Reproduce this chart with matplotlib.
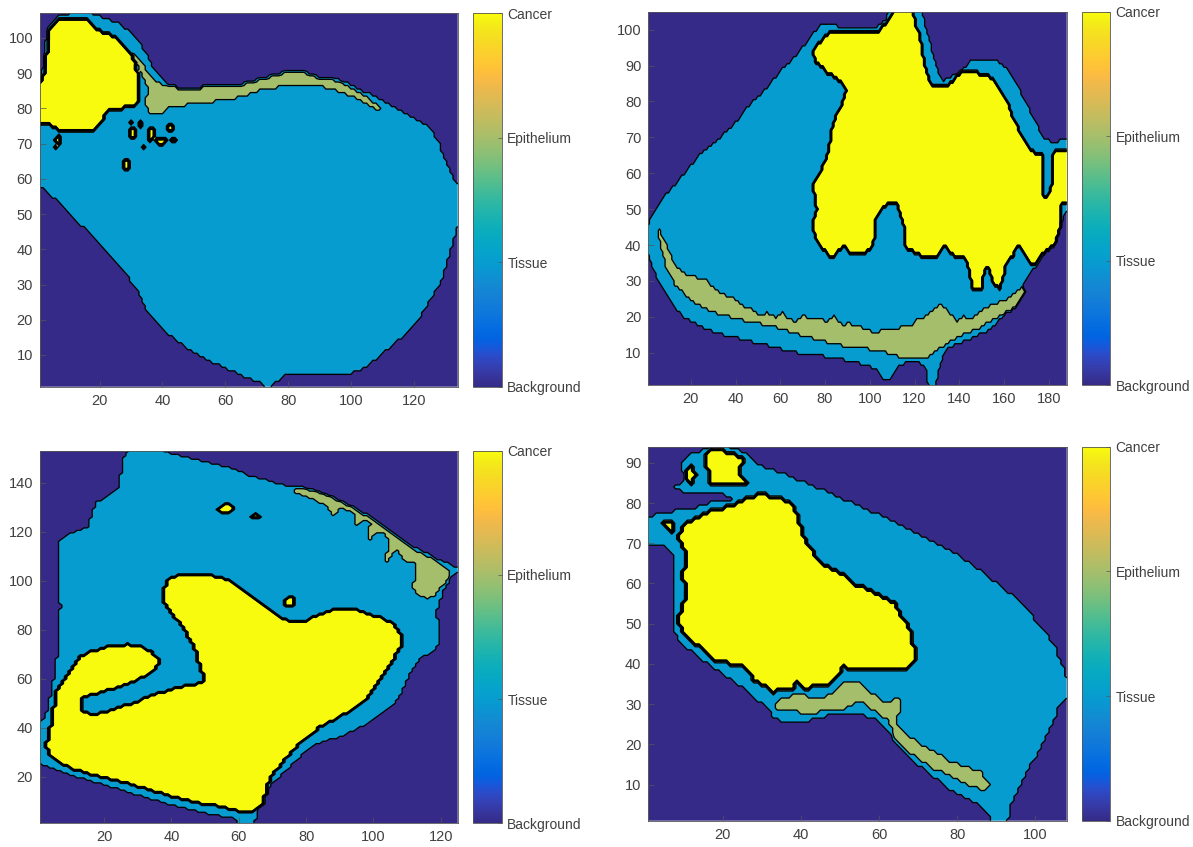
import numpy as np
import matplotlib
matplotlib.use("Agg")
import matplotlib.pyplot as plt
from matplotlib.path import Path
from matplotlib.colors import ListedColormap, LinearSegmentedColormap, Normalize
from matplotlib.cm import ScalarMappable

plt.rcParams['font.family'] = ['Liberation Sans', 'DejaVu Sans']

# ---------------- parula colormap (MATLAB) ----------------
PARULA = [
    [0.2081, 0.1663, 0.5292], [0.2116, 0.1898, 0.5777], [0.2123, 0.2138, 0.6270], [0.2081, 0.2386, 0.6771],
    [0.1959, 0.2645, 0.7279], [0.1707, 0.2919, 0.7792], [0.1253, 0.3242, 0.8303], [0.0591, 0.3598, 0.8683],
    [0.0117, 0.3875, 0.8820], [0.0060, 0.4086, 0.8828], [0.0165, 0.4266, 0.8786], [0.0329, 0.4430, 0.8720],
    [0.0498, 0.4586, 0.8641], [0.0629, 0.4737, 0.8554], [0.0723, 0.4887, 0.8467], [0.0779, 0.5040, 0.8384],
    [0.0793, 0.5200, 0.8312], [0.0749, 0.5375, 0.8263], [0.0641, 0.5570, 0.8240], [0.0488, 0.5772, 0.8228],
    [0.0343, 0.5966, 0.8199], [0.0265, 0.6137, 0.8135], [0.0239, 0.6287, 0.8038], [0.0231, 0.6418, 0.7913],
    [0.0228, 0.6535, 0.7768], [0.0267, 0.6642, 0.7607], [0.0384, 0.6743, 0.7436], [0.0590, 0.6838, 0.7254],
    [0.0843, 0.6928, 0.7062], [0.1133, 0.7015, 0.6859], [0.1453, 0.7098, 0.6646], [0.1801, 0.7177, 0.6424],
    [0.2178, 0.7250, 0.6193], [0.2586, 0.7317, 0.5954], [0.3022, 0.7376, 0.5712], [0.3482, 0.7424, 0.5473],
    [0.3953, 0.7459, 0.5244], [0.4420, 0.7481, 0.5033], [0.4871, 0.7491, 0.4840], [0.5300, 0.7491, 0.4661],
    [0.5709, 0.7485, 0.4494], [0.6099, 0.7473, 0.4337], [0.6473, 0.7456, 0.4188], [0.6834, 0.7435, 0.4044],
    [0.7184, 0.7411, 0.3905], [0.7525, 0.7384, 0.3768], [0.7858, 0.7356, 0.3633], [0.8185, 0.7327, 0.3498],
    [0.8507, 0.7299, 0.3360], [0.8824, 0.7274, 0.3217], [0.9139, 0.7258, 0.3063], [0.9450, 0.7261, 0.2886],
    [0.9739, 0.7314, 0.2666], [0.9938, 0.7455, 0.2403], [0.9990, 0.7653, 0.2164], [0.9955, 0.7861, 0.1967],
    [0.9880, 0.8066, 0.1794], [0.9789, 0.8271, 0.1633], [0.9697, 0.8481, 0.1475], [0.9626, 0.8705, 0.1309],
    [0.9589, 0.8949, 0.1132], [0.9598, 0.9218, 0.0948], [0.9661, 0.9514, 0.0755], [0.9763, 0.9831, 0.0538]]
parula = ListedColormap(PARULA, name="parula")
parula_smooth = LinearSegmentedColormap.from_list("parula_s", PARULA, N=512)

CLASS_NAMES = ["Background", "Tissue", "Epithelium", "Cancer"]
CLASS_VALUES = [0, 1, 2, 3]

# ---------------- Panel 1 (top-left) ----------------
P1_SIZE = (134, 107)
P1_XTICKS = [20, 40, 60, 80, 100, 120]
P1_YTICKS = [10, 20, 30, 40, 50, 60, 70, 80, 90, 100]
P1_TISSUE = [(4.2, 104.0), (6.8, 106.6), (15.2, 107.5), (20.5, 106.1), (24.8, 104.7), (29.0, 102.4),
             (32.2, 99.5), (34.8, 95.8), (37.5, 91.1), (40.6, 87.3), (44.9, 85.9), (50.2, 85.4),
             (56.5, 86.3), (62.9, 86.5), (69.2, 87.8), (75.6, 89.6), (80.8, 90.8), (85.1, 90.6),
             (90.4, 88.7), (95.7, 88.2), (101.0, 86.3), (106.2, 84.0), (111.5, 81.6), (116.8, 78.8),
             (122.1, 76.4), (125.8, 74.1), (127.9, 70.3), (130.1, 65.6), (132.2, 60.9), (135.0, 57.1),
             (135.0, 48.6), (132.7, 43.0), (131.1, 37.3), (129.0, 31.7), (126.3, 27.0), (123.2, 22.3),
             (118.9, 17.5), (114.7, 13.8), (109.4, 10.0), (104.1, 6.2), (98.8, 4.3), (78.7, 4.3),
             (76.6, 2.5), (73.4, 0.5), (70.3, 2.5), (65.0, 4.3), (57.6, 7.2), (48.0, 11.9),
             (39.6, 17.5), (35.3, 22.3), (32.2, 27.9), (27.9, 33.6), (22.6, 39.2), (16.3, 44.9),
             (11.0, 49.6), (6.8, 53.4), (4.7, 55.2), (0.5, 58.1), (0.5, 86.0), (1.8, 90.0),
             (2.6, 96.7), (3.2, 101.4)]
P1_EPI = [[(30.6, 95.8), (32.2, 94.4), (35.3, 90.6), (38.0, 87.8), (41.7, 86.3), (48.0, 85.6),
           (54.4, 86.2), (62.9, 86.3), (69.2, 87.5), (75.6, 89.4), (80.8, 90.6), (85.1, 90.3),
           (90.4, 88.5), (95.7, 87.9), (101.0, 85.4), (105.2, 83.0), (109.4, 80.3), (108.9, 79.2),
           (105.2, 81.2), (99.9, 83.6), (94.6, 85.4), (89.3, 86.3), (84.0, 86.7), (78.7, 86.2),
           (73.4, 85.6), (69.2, 84.6), (62.9, 82.8), (54.4, 81.8), (48.0, 81.0), (41.7, 80.2),
           (39.6, 78.0), (35.3, 79.0), (34.8, 81.2), (35.3, 86.3), (32.7, 91.1), (30.6, 93.9)]]
P1_CANCER = [[(4.7, 103.8), (7.3, 105.2), (7.8, 105.5), (15.8, 105.5), (16.8, 104.7), (19.5, 102.4),
              (23.7, 101.0), (26.3, 99.1), (28.5, 96.7), (30.6, 94.4), (31.6, 92.5), (32.2, 89.2),
              (32.4, 84.5), (32.2, 81.2), (30.6, 80.2), (23.7, 79.7), (22.1, 78.3), (20.5, 76.4),
              (18.9, 74.6), (17.4, 73.1), (9.9, 73.1), (6.2, 74.1), (3.6, 75.5), (0.5, 76.0),
              (0.5, 85.9), (2.3, 90.1), (3.1, 96.7), (3.6, 101.4)]]
P1_BLOB_X = [30.6, 36.2, 39.6, 28.7, 30.3, 32.9, 42.4, 34.3, 43.8, 6.8, 6.2]
P1_BLOB_Y = [73.2, 72.7, 70.8, 64.0, 76.2, 75.5, 74.7, 69.4, 71.3, 71.3, 68.9]
P1_BLOB_RX = [1.2, 1.1, 2.0, 1.0, 0.6, 0.7, 0.7, 0.6, 1.0, 0.9, 0.7]
P1_BLOB_RY = [1.6, 2.2, 1.0, 2.0, 0.6, 0.7, 1.4, 0.6, 0.6, 1.4, 0.8]

# ---------------- Panel 2 (top-right) ----------------
P2_SIZE = (188, 105)
P2_XTICKS = [20, 40, 60, 80, 100, 120, 140, 160, 180]
P2_YTICKS = [10, 20, 30, 40, 50, 60, 70, 80, 90, 100]
P2_TISSUE = [(0.5, 45.4), (7.3, 52.8), (16.2, 59.3), (25.2, 65.9), (32.7, 69.6), (40.2, 74.2),
             (46.1, 78.9), (53.6, 83.5), (61.1, 89.1), (67.1, 92.8), (73.1, 97.5), (77.6, 101.2),
             (82.0, 101.6), (88.0, 100.6), (103.0, 100.6), (107.4, 103.1), (108.9, 106.0), (123.2, 106.0),
             (124.7, 101.2), (127.7, 94.7), (130.7, 87.3), (132.9, 85.9), (137.4, 87.3), (141.9, 89.1),
             (144.9, 91.4), (147.8, 91.9), (156.8, 91.4), (161.3, 89.1), (165.8, 84.5), (170.3, 78.9),
             (174.8, 73.3), (177.8, 69.6), (182.3, 68.6), (189.0, 70.0), (189.0, 51.0), (185.2, 45.4),
             (182.3, 41.6), (177.8, 37.0), (173.3, 33.3), (168.8, 29.5), (165.8, 26.8), (162.8, 23.0),
             (159.8, 20.2), (153.8, 16.5), (147.8, 14.7), (140.4, 12.8), (134.4, 10.9), (131.4, 7.2),
             (129.2, 0.5), (126.2, 0.5), (124.7, 6.3), (119.4, 7.7), (113.4, 6.7), (108.9, 2.6),
             (106.0, 2.6), (103.0, 5.3), (97.0, 6.7), (88.0, 8.1), (79.1, 9.1), (67.1, 10.0),
             (55.1, 11.9), (43.2, 13.7), (31.2, 15.6), (23.7, 17.4), (16.2, 20.2), (10.3, 24.9),
             (5.8, 29.5), (2.8, 34.2), (0.5, 37.9)]
P2_EPI = [[(5.8, 45.4), (7.5, 42.0), (9.5, 39.8), (11.5, 36.5), (13.3, 34.2), (16.0, 33.0), (19.2, 31.4),
           (21.5, 31.8), (23.7, 30.5), (26.0, 30.8), (28.2, 29.5), (31.0, 27.6), (35.7, 25.8), (38.5, 25.9),
           (43.2, 23.0), (47.0, 22.5), (50.6, 20.7), (54.0, 21.0), (58.1, 19.8), (61.0, 21.2),
           (63.0, 19.3), (67.1, 18.8), (70.5, 20.3), (73.1, 19.3), (77.0, 19.6), (80.5, 18.8),
           (84.0, 20.0), (88.0, 17.9), (91.0, 18.1), (95.5, 17.4), (99.0, 16.2), (103.0, 15.6),
           (107.0, 16.6), (110.4, 16.1), (114.0, 17.2), (117.9, 17.0), (121.5, 19.5), (125.4, 20.2),
           (128.5, 22.0), (131.4, 23.5), (134.4, 22.1), (138.9, 18.8), (142.0, 20.0), (144.9, 19.3),
           (150.8, 22.1), (155.3, 23.5), (159.8, 24.4), (164.3, 26.3), (168.1, 28.2), (169.6, 26.8),
           (167.3, 24.4), (162.8, 21.6), (155.3, 19.3), (147.8, 16.5), (140.4, 14.7), (132.9, 11.9),
           (125.4, 8.6), (117.9, 8.0), (110.4, 9.5), (103.0, 10.7), (88.0, 11.9), (73.1, 14.2),
           (58.1, 17.0), (43.2, 19.1), (28.2, 21.6), (20.7, 24.4), (13.3, 28.6), (8.8, 34.2),
           (6.5, 39.8), (5.0, 44.4)]]
P2_CANCER = [[(111.2, 106.0), (119.4, 106.0), (120.2, 102.2), (122.4, 98.4), (123.9, 92.8), (124.7, 90.0),
              (126.9, 85.4), (129.2, 84.0), (134.4, 84.0), (137.4, 85.9), (138.9, 87.7), (143.4, 88.7),
              (146.3, 88.2), (150.8, 87.7), (155.3, 86.3), (158.3, 83.5), (161.3, 80.7), (162.8, 78.0),
              (164.3, 75.2), (167.3, 71.4), (170.3, 67.7), (173.3, 65.9), (177.0, 65.7), (177.4, 60.3),
              (177.0, 54.2), (179.6, 53.6), (181.1, 56.5), (181.1, 64.9), (183.0, 66.3), (186.7, 67.0),
              (189.0, 66.8), (189.0, 51.9), (186.0, 51.0), (185.2, 45.4), (183.8, 41.6), (180.8, 38.9),
              (177.8, 37.9), (174.8, 35.1), (171.8, 34.2), (168.8, 37.9), (165.8, 39.8), (164.3, 37.0),
              (161.3, 35.1), (159.8, 30.5), (158.3, 27.7), (155.3, 28.6), (153.8, 32.3), (152.3, 34.2),
              (150.8, 31.4), (150.1, 27.7), (146.3, 27.2), (144.9, 30.5), (143.4, 35.1), (141.9, 37.0),
              (138.9, 36.1), (132.9, 39.8), (131.4, 37.9), (129.9, 36.1), (125.4, 36.1), (122.4, 37.0),
              (119.4, 37.9), (115.0, 39.8), (115.0, 45.4), (113.4, 49.1), (112.0, 51.0), (107.4, 51.0),
              (104.5, 49.1), (103.0, 47.2), (103.0, 43.5), (101.5, 39.8), (97.0, 37.0), (94.0, 37.0),
              (91.0, 37.9), (88.0, 39.8), (83.5, 36.1), (82.0, 36.1), (80.5, 37.9), (77.6, 39.8),
              (74.6, 43.5), (74.6, 46.3), (76.1, 50.0), (74.6, 56.5), (77.6, 60.3), (80.5, 64.0),
              (82.0, 68.6), (83.5, 74.2), (86.5, 78.0), (88.0, 80.7), (89.5, 83.5), (86.5, 85.4),
              (80.5, 88.2), (75.3, 91.0), (74.6, 94.7), (79.1, 97.5), (82.0, 99.4), (88.0, 99.1),
              (103.0, 99.1), (106.0, 101.2), (108.9, 103.1)]]
P2_BLOB_X = []
P2_BLOB_Y = []
P2_BLOB_RX = []
P2_BLOB_RY = []

# ---------------- Panel 3 (bottom-left) ----------------
P3_SIZE = (125, 153)
P3_XTICKS = [20, 40, 60, 80, 100, 120]
P3_YTICKS = [20, 40, 60, 80, 100, 120, 140]
P3_TISSUE = [(6.6, 116.5), (8.6, 118.5), (12.5, 120.6), (15.5, 121.9), (16.5, 128.7), (18.0, 132.1),
             (21.5, 134.8), (24.0, 137.6), (25.0, 143.7), (25.7, 149.8), (27.0, 152.9), (35.4, 154.0),
             (40.4, 151.8), (44.4, 150.5), (48.4, 149.1), (52.3, 147.8), (56.3, 146.4), (60.3, 144.4),
             (64.3, 142.3), (68.3, 141.0), (71.2, 139.6), (75.2, 138.5), (78.2, 138.5), (84.2, 136.2),
             (88.2, 134.2), (92.1, 131.4), (96.1, 128.7), (100.1, 125.3), (104.1, 121.9), (108.1, 117.9),
             (112.0, 113.8), (116.0, 111.1), (120.0, 108.3), (124.0, 105.9), (126.0, 104.9), (123.0, 101.5),
             (121.0, 96.1), (120.0, 92.0), (118.5, 86.6), (119.5, 82.5), (120.0, 78.4), (119.0, 73.0),
             (117.0, 70.0), (114.0, 68.7), (112.0, 64.8), (110.0, 59.4), (108.1, 54.0), (106.1, 49.9),
             (104.1, 47.2), (101.1, 44.5), (98.1, 41.7), (94.1, 39.0), (90.1, 36.3), (86.2, 34.9),
             (82.2, 32.9), (79.2, 29.5), (76.2, 25.4), (73.2, 21.4), (70.2, 17.3), (67.3, 13.2),
             (66.3, 9.1), (65.3, 5.1), (64.8, 0.5), (60.3, 0.5), (58.3, 3.0), (48.4, 5.7),
             (38.4, 9.1), (28.5, 13.2), (18.5, 17.3), (8.6, 21.4), (0.5, 25.4), (0.5, 41.7),
             (2.6, 44.5), (3.6, 49.9), (4.6, 56.7), (5.6, 64.8), (6.4, 73.0), (6.6, 83.9),
             (7.1, 89.3), (6.6, 94.7), (6.6, 105.6)]
P3_EPI = [[(75.7, 138.0), (80.2, 137.2), (84.2, 135.5), (88.2, 133.5), (92.1, 130.8), (96.1, 127.6),
           (100.1, 124.4), (104.1, 120.8), (108.1, 116.8), (112.0, 112.7), (116.0, 109.7), (120.0, 107.0),
           (122.5, 104.3), (122.0, 100.2), (120.0, 97.5), (118.5, 94.1), (116.0, 92.7), (113.0, 94.1),
           (111.5, 97.5), (112.5, 101.5), (113.0, 105.6), (111.5, 108.3), (109.5, 107.0), (108.5, 109.7),
           (107.1, 112.1), (105.6, 110.8), (104.1, 107.7), (103.1, 109.4), (104.6, 113.1), (104.9, 116.5),
           (103.1, 119.2), (100.6, 119.9), (99.1, 116.5), (98.1, 119.2), (99.1, 123.0), (97.1, 124.9),
           (94.6, 121.9), (94.9, 126.0), (93.1, 128.0), (90.6, 129.8), (89.1, 128.5), (88.6, 124.4),
           (87.6, 128.0), (85.2, 131.2), (82.2, 133.1), (79.2, 134.4), (76.7, 135.8)]]
P3_CANCER = [[(38.9, 100.2), (42.4, 102.9), (46.4, 102.9), (52.3, 102.2), (56.3, 100.9), (60.3, 97.5),
              (64.3, 93.4), (68.3, 89.3), (72.2, 85.2), (75.2, 83.2), (80.2, 83.9), (84.2, 86.6),
              (88.2, 88.6), (94.1, 88.6), (98.1, 86.6), (102.1, 85.2), (106.1, 82.5), (108.1, 78.4),
              (108.1, 73.0), (106.1, 67.6), (104.1, 63.5), (102.1, 59.4), (100.1, 55.3), (98.1, 51.3),
              (94.1, 47.2), (88.2, 43.1), (84.2, 40.4), (82.2, 37.7), (78.2, 33.6), (76.2, 30.9),
              (74.2, 27.5), (71.2, 22.7), (69.3, 18.6), (68.3, 14.6), (67.3, 9.1), (65.3, 6.4),
              (64.3, 5.1), (60.3, 5.7), (54.3, 7.8), (48.4, 9.1), (40.4, 11.8), (33.4, 14.6),
              (26.5, 17.3), (18.5, 20.0), (11.5, 22.7), (6.6, 25.4), (3.6, 29.5), (2.6, 32.2),
              (3.6, 37.7), (4.6, 44.5), (5.6, 54.0), (6.6, 56.7), (9.6, 62.1), (12.5, 68.9),
              (15.5, 71.0), (20.5, 73.0), (27.5, 74.1), (31.4, 73.0), (34.4, 71.0), (36.4, 67.6),
              (35.4, 63.5), (32.4, 60.8), (28.5, 58.7), (23.5, 56.0), (18.5, 54.0), (14.0, 52.6),
              (13.5, 47.2), (16.5, 45.6), (21.5, 46.9), (28.5, 50.2), (34.4, 53.3), (40.4, 56.0),
              (46.4, 57.8), (49.9, 58.7), (48.4, 64.8), (47.4, 70.3), (45.9, 74.4), (44.4, 78.4),
              (42.4, 82.5), (39.9, 86.6), (37.9, 90.7), (37.4, 96.1)]]
P3_BLOB_X = [56.3, 65.0, 75.2]
P3_BLOB_Y = [129.4, 126.3, 91.4]
P3_BLOB_RX = [2.4, 1.3, 1.6]
P3_BLOB_RY = [1.8, 0.8, 2.4]

# ---------------- Panel 4 (bottom-right) ----------------
P4_SIZE = (108, 94)
P4_XTICKS = [20, 40, 60, 80, 100]
P4_YTICKS = [10, 20, 30, 40, 50, 60, 70, 80, 90]
P4_TISSUE = [(10.4, 85.5), (9.5, 89.6), (11.7, 92.0), (15.1, 93.3), (19.3, 94.5), (24.4, 93.3),
             (27.0, 92.0), (28.7, 90.0), (31.2, 88.8), (35.4, 87.5), (42.2, 84.6), (49.0, 81.8),
             (55.8, 78.9), (62.6, 76.0), (69.4, 72.7), (76.2, 69.4), (83.0, 65.3), (88.1, 61.5),
             (93.2, 57.8), (97.4, 53.7), (101.7, 49.2), (105.1, 44.2), (107.0, 39.3), (108.5, 35.6),
             (108.5, 31.9), (106.0, 29.4), (104.3, 25.3), (101.7, 20.3), (99.2, 15.4), (96.6, 10.8),
             (94.5, 6.3), (93.2, 3.0), (92.8, 0.5), (89.0, 0.5), (87.7, 3.0), (85.6, 5.0),
             (82.2, 6.7), (78.8, 8.4), (75.4, 10.8), (72.0, 13.3), (68.6, 15.8), (65.2, 18.7),
             (63.1, 22.0), (60.9, 24.9), (58.4, 26.5), (55.0, 27.6), (51.6, 27.7), (49.0, 27.4),
             (45.6, 26.9), (42.2, 26.0), (38.8, 25.5), (35.4, 25.3), (33.3, 26.5), (31.2, 29.0),
             (27.8, 31.9), (23.6, 35.2), (19.3, 38.0), (15.1, 40.9), (11.7, 43.4), (8.7, 45.9),
             (7.4, 49.2), (7.8, 52.5), (7.0, 55.8), (7.8, 59.2), (7.4, 64.1), (7.0, 67.4),
             (4.9, 69.4), (0.5, 69.4), (0.5, 76.8), (4.9, 77.2), (8.3, 78.1), (11.7, 78.5),
             (15.1, 79.7), (19.3, 80.6), (22.7, 80.9), (22.7, 81.9), (16.8, 82.2), (11.7, 82.8),
             (8.3, 83.1), (7.4, 84.2)]
P4_EPI = [[(32.9, 30.4), (35.4, 31.7), (38.8, 32.3), (42.2, 31.9), (45.6, 31.7), (49.0, 33.3),
           (50.7, 35.0), (52.9, 35.6), (54.6, 35.3), (56.3, 34.2), (58.0, 32.9), (59.7, 31.7),
           (61.8, 30.4), (63.5, 31.2), (65.2, 31.4), (66.0, 29.4), (65.0, 27.3), (64.5, 25.3),
           (65.6, 23.6), (68.1, 21.8), (71.1, 19.7), (74.5, 17.8), (77.9, 16.0), (81.3, 14.5),
           (84.7, 13.6), (86.2, 13.6), (87.2, 11.3), (88.2, 9.8), (86.8, 8.8), (83.9, 9.4),
           (80.5, 10.8), (77.1, 12.5), (73.7, 14.1), (70.3, 16.2), (66.9, 18.5), (64.3, 21.1),
           (63.1, 24.3), (61.8, 26.5), (59.2, 28.1), (56.7, 29.8), (54.6, 31.0), (52.7, 29.8),
           (50.7, 28.6), (47.3, 28.1), (42.2, 27.9), (37.1, 28.1), (33.7, 29.0)]]
P4_CANCER = [[(25.3, 80.6), (27.0, 81.8), (30.4, 82.2), (33.7, 81.4), (37.1, 80.6), (38.8, 78.1),
              (39.7, 75.6), (40.5, 72.3), (42.2, 69.1), (44.8, 65.8), (47.3, 64.1), (50.7, 62.5),
              (54.1, 59.9), (57.5, 58.3), (60.9, 56.6), (64.3, 54.9), (66.0, 51.7), (67.7, 49.2),
              (68.6, 45.9), (69.9, 42.2), (68.6, 39.3), (66.0, 38.3), (59.2, 38.1), (52.4, 38.5),
              (50.7, 39.3), (49.9, 37.6), (49.0, 36.0), (47.3, 34.3), (40.5, 33.9), (38.8, 35.2),
              (38.0, 33.5), (33.7, 33.3), (32.9, 32.5), (31.2, 34.3), (27.8, 35.8), (26.1, 38.4),
              (23.6, 39.9), (18.5, 40.1), (16.8, 41.8), (15.1, 43.4), (12.5, 45.0), (10.0, 47.6),
              (8.3, 50.9), (9.1, 53.3), (10.1, 55.8), (10.4, 59.1), (9.5, 62.4), (10.8, 65.7),
              (10.0, 68.1), (8.7, 70.6), (9.1, 73.1), (10.4, 74.7), (12.5, 76.4), (15.1, 77.4),
              (17.6, 78.2), (20.2, 78.7), (22.7, 79.7)],
             [(15.9, 92.9), (20.2, 93.3), (21.4, 92.5), (24.8, 91.6), (25.3, 90.4), (24.8, 88.8),
              (25.0, 86.3), (26.3, 85.0), (23.6, 84.6), (16.8, 84.6), (16.4, 87.1), (15.7, 89.6)],
             [(3.6, 75.4), (6.8, 76.0), (7.6, 72.2), (5.6, 73.4)]]
P4_BLOB_X = [11.9]
P4_BLOB_Y = [87.0]
P4_BLOB_RX = [1.1]
P4_BLOB_RY = [2.2]

# ---------------- drawing ----------------
FIG_W, FIG_H = 1193, 847
fig = plt.figure(figsize=(FIG_W / 100, FIG_H / 100), dpi=100)
fig.patch.set_facecolor("white")

# axes boxes in pixels: (left, top, right, bottom), colorbar (left, right)
BOXES = [
    ((40.0, 13.3, 457.7, 386.7), (473.3, 501.7)),
    ((648.3, 11.7, 1066.7, 385.0), (1081.6, 1110.0)),
    ((40.0, 450.7, 457.7, 823.3), (473.3, 501.7)),
    ((648.3, 446.7, 1066.7, 820.7), (1081.6, 1110.0)),
]

PANELS = [
    (P1_SIZE, P1_TISSUE, P1_EPI, P1_CANCER, P1_BLOB_X, P1_BLOB_Y, P1_BLOB_RX, P1_BLOB_RY, P1_XTICKS, P1_YTICKS),
    (P2_SIZE, P2_TISSUE, P2_EPI, P2_CANCER, P2_BLOB_X, P2_BLOB_Y, P2_BLOB_RX, P2_BLOB_RY, P2_XTICKS, P2_YTICKS),
    (P3_SIZE, P3_TISSUE, P3_EPI, P3_CANCER, P3_BLOB_X, P3_BLOB_Y, P3_BLOB_RX, P3_BLOB_RY, P3_XTICKS, P3_YTICKS),
    (P4_SIZE, P4_TISSUE, P4_EPI, P4_CANCER, P4_BLOB_X, P4_BLOB_Y, P4_BLOB_RX, P4_BLOB_RY, P4_XTICKS, P4_YTICKS),
]

TEXT_COL = "#404040"
class_colors = [parula(v / 3.0) for v in CLASS_VALUES]


def label_map(size, tissue, epis, cancers, bx, by, brx, bry):
    nx, ny = size
    X, Y = np.meshgrid(np.arange(1, nx + 1), np.arange(1, ny + 1))
    pts = np.column_stack([X.ravel(), Y.ravel()])
    L = np.zeros(X.shape)
    L[Path(tissue).contains_points(pts).reshape(X.shape)] = CLASS_VALUES[1]
    for poly in epis:
        L[Path(poly).contains_points(pts).reshape(X.shape)] = CLASS_VALUES[2]
    for poly in cancers:
        L[Path(poly).contains_points(pts).reshape(X.shape)] = CLASS_VALUES[3]
    for x0, y0, rx, ry in zip(bx, by, brx, bry):
        L[((X - x0) / rx) ** 2 + ((Y - y0) / ry) ** 2 <= 1.0] = CLASS_VALUES[3]
    return X, Y, L


for (box, cbx), panel in zip(BOXES, PANELS):
    size, tissue, epis, cancers, bx, by, brx, bry, xt, yt = panel
    l, t, r, b = box
    ax = fig.add_axes([l / FIG_W, 1 - b / FIG_H, (r - l) / FIG_W, (b - t) / FIG_H])
    X, Y, L = label_map(size, tissue, epis, cancers, bx, by, brx, bry)
    ax.contourf(X, Y, L, levels=[-0.5, 0.5, 1.5, 2.5, 3.5], colors=class_colors, antialiased=True)
    ax.contour(X, Y, L, levels=[0.5, 1.5], colors="k", linewidths=0.95)
    ax.contour(X, Y, L, levels=[2.15, 2.5, 2.85], colors="k", linewidths=1.2)
    ax.set_xlim(1, size[0])
    ax.set_ylim(1, size[1])
    ax.set_xticks(xt)
    ax.set_yticks(yt)
    ax.tick_params(direction="in", length=4, width=0.5, colors="#555555", labelcolor=TEXT_COL,
                   labelsize=10.5, pad=5)
    for s in ax.spines.values():
        s.set_color("#555555")
        s.set_linewidth(0.6)

    cax = fig.add_axes([cbx[0] / FIG_W, 1 - b / FIG_H, (cbx[1] - cbx[0]) / FIG_W, (b - t) / FIG_H])
    sm = ScalarMappable(norm=Normalize(CLASS_VALUES[0], CLASS_VALUES[-1]), cmap=parula_smooth)
    cb = fig.colorbar(sm, cax=cax, ticks=CLASS_VALUES)
    cb.ax.set_yticklabels(CLASS_NAMES)
    cb.ax.tick_params(direction="in", length=3, width=0.5, colors="#555555", labelcolor=TEXT_COL,
                      labelsize=10, pad=4)
    cb.outline.set_edgecolor("#555555")
    cb.outline.set_linewidth(0.6)

fig.savefig("out.png", dpi=100)
